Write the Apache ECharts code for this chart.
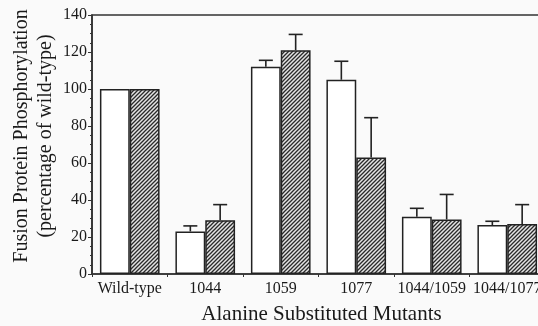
<!DOCTYPE html>
<html><head><meta charset="utf-8">
<script src="https://cdn.jsdelivr.net/npm/echarts@6/dist/echarts.min.js"></script>
<style>html,body{margin:0;padding:0;background:#fafafa;}#c{width:538px;height:326px;}</style>
</head><body><div id="c"></div>
<script>
var categories = ['Wild-type', '1044', '1059', '1077', '1044/1059', '1044/1077'];
var openValues = [100, 23, 112, 105, 31, 26.5];
var openErrors = [0, 3, 3.5, 10, 4.5, 2];
var hatchedValues = [100, 29, 121, 63, 29.5, 27];
var hatchedErrors = [0, 8.5, 8.5, 21.5, 13.5, 10.5];
var yTicks = [0, 20, 40, 60, 80, 100, 120, 140];

var FONT = "'Liberation Serif', 'Times New Roman', serif";
var GAP = 0.21;

var pc = document.createElement('canvas');
pc.width = 4; pc.height = 4;
var g = pc.getContext('2d');
g.fillStyle = '#e4e4e4'; g.fillRect(0, 0, 4, 4);
g.strokeStyle = '#2a2a2a'; g.lineWidth = 1.3;
g.beginPath();
g.moveTo(-1, 5); g.lineTo(5, -1);
g.moveTo(-1, 1); g.lineTo(1, -1);
g.moveTo(3, 5); g.lineTo(5, 3);
g.stroke();

function errRender(sign) {
  return function (params, api) {
    var err = api.value(2);
    if (!err) return null;
    var ci = api.value(0);
    var base = api.coord([ci, api.value(1)]);
    var top = api.coord([ci, api.value(1) + err]);
    var band = api.size([1, 0])[0];
    var bw = band * (1 - GAP) / 2;
    var x = base[0] + sign * bw / 2;
    var cap = 14;
    var st = { stroke: '#222', lineWidth: 1.6 };
    return { type: 'group', children: [
      { type: 'line', shape: { x1: x, y1: base[1], x2: x, y2: top[1] }, style: st },
      { type: 'line', shape: { x1: x - cap / 2, y1: top[1], x2: x + cap / 2, y2: top[1] }, style: st }
    ]};
  };
}

var chart = echarts.init(document.getElementById('c'), null, { renderer: 'canvas' });
chart.setOption({
  backgroundColor: '#fafafa',
  animation: false,
  grid: { left: 92, top: 15, width: 453, height: 259, containLabel: false, outerBoundsMode: 'none',
    show: true, borderColor: '#333', borderWidth: 1.6, backgroundColor: 'transparent' },
  xAxis: {
    type: 'category', data: categories,
    axisLine: { lineStyle: { color: '#333', width: 1.6 } },
    axisTick: { show: true, length: 3, lineStyle: { color: '#333' } },
    axisLabel: { color: '#1a1a1a', fontFamily: FONT, fontSize: 16, margin: 7, interval: 0 },
    name: 'Alanine Substituted Mutants', nameLocation: 'middle', nameGap: 30,
    nameTextStyle: { color: '#1a1a1a', fontFamily: FONT, fontSize: 21, padding: [0, 0, 0, 6] }
  },
  yAxis: {
    type: 'value', min: 0, max: 140, interval: 20,
    axisLine: { show: true, lineStyle: { color: '#333', width: 1.6 } },
    axisTick: { show: true, length: 4, lineStyle: { color: '#333' } },
    minorTick: { show: true, splitNumber: 4, length: 2, lineStyle: { color: '#333' } },
    splitLine: { show: false },
    axisLabel: { color: '#1a1a1a', fontFamily: FONT, fontSize: 16, margin: 5,
      formatter: function (v) { return yTicks.indexOf(v) >= 0 ? String(v) : ''; } }
  },
  graphic: [{
    type: 'text', rotation: Math.PI / 2,
    x: 34, y: 136,
    style: { text: 'Fusion Protein Phosphorylation\n(percentage of wild-type)', fontFamily: FONT, fontSize: 20,
      fill: '#1a1a1a', align: 'center', verticalAlign: 'middle', lineHeight: 24 }
  }],
  series: [
    { type: 'bar', data: openValues, barGap: '0%', barCategoryGap: (GAP * 100) + '%',
      itemStyle: { color: '#ffffff', borderColor: '#222', borderWidth: 1.5 } },
    { type: 'bar', data: hatchedValues, barGap: '0%', barCategoryGap: (GAP * 100) + '%',
      itemStyle: { color: { image: pc, repeat: 'repeat' }, borderColor: '#222', borderWidth: 1.5 } },
    { type: 'custom', renderItem: errRender(-1), z: 5,
      data: categories.map(function (c, i) { return [i, openValues[i], openErrors[i]]; }) },
    { type: 'custom', renderItem: errRender(1), z: 5,
      data: categories.map(function (c, i) { return [i, hatchedValues[i], hatchedErrors[i]]; }) }
  ]
});
</script></body></html>
